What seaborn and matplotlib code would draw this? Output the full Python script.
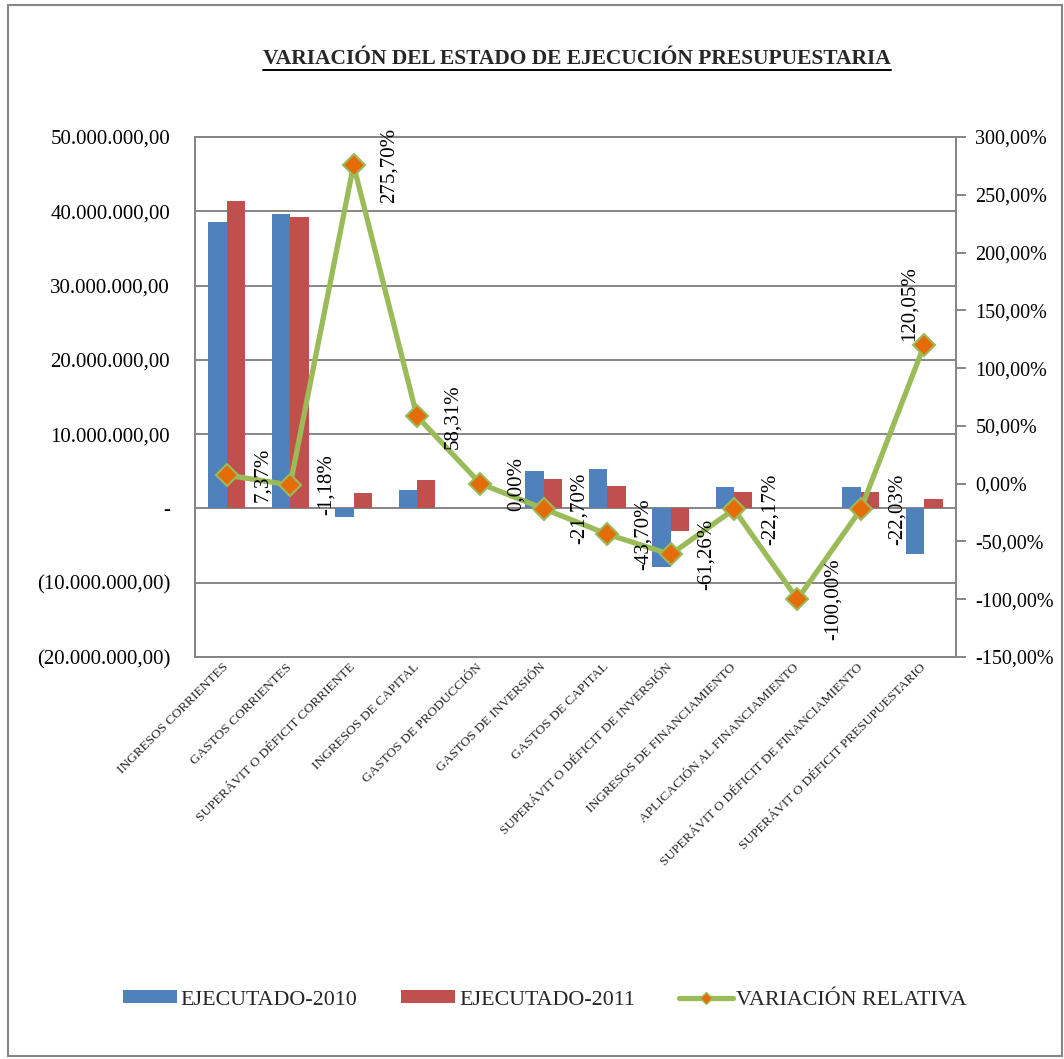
import numpy as np
import pandas as pd
import matplotlib
matplotlib.use("Agg")
import matplotlib.pyplot as plt
from matplotlib.patches import Patch, Rectangle
from matplotlib.lines import Line2D
from matplotlib.ticker import FuncFormatter, MultipleLocator
import seaborn as sns

# --- datos del estado de ejecución presupuestaria ---
rubros = [
    "INGRESOS CORRIENTES",
    "GASTOS CORRIENTES",
    "SUPERÁVIT O DÉFICIT CORRIENTE",
    "INGRESOS DE CAPITAL",
    "GASTOS DE PRODUCCIÓN",
    "GASTOS DE INVERSIÓN",
    "GASTOS DE CAPITAL",
    "SUPERÁVIT O DÉFICIT DE INVERSIÓN",
    "INGRESOS DE FINANCIAMIENTO",
    "APLICACIÓN AL FINANCIAMIENTO",
    "SUPERÁVIT O DÉFICIT DE FINANCIAMIENTO",
    "SUPERÁVIT O DÉFICIT PRESUPUESTARIO",
]
ejecutado_2010 = [38_500_000, 39_700_000, -1_200_000, 2_450_000, 0, 5_020_000,
                  5_250_000, -7_820_000, 2_830_000, 5_000, 2_820_000, -6_200_000]
ejecutado_2011 = [41_340_000, 39_230_000, 2_110_000, 3_880_000, 0, 3_930_000,
                  2_960_000, -3_020_000, 2_200_000, 0, 2_200_000, 1_290_000]
variacion_relativa = [7.37, -1.18, 275.70, 58.31, 0.00, -21.70, -43.70,
                      -61.26, -22.17, -100.00, -22.03, 120.05]
series = ["EJECUTADO-2010", "EJECUTADO-2011", "VARIACIÓN RELATIVA"]

AZUL = "#4F81BD"
ROJO = "#C0504D"
VERDE = "#9BBB59"
NARANJA = "#E46C0A"
GRIS = "#868686"

sns.set_theme(style="white")
plt.rcParams["font.family"] = ["Liberation Serif", "DejaVu Serif"]

df_barras = pd.DataFrame({
    "rubro": rubros * 2,
    "monto": ejecutado_2010 + ejecutado_2011,
    "serie": [series[0]] * len(rubros) + [series[1]] * len(rubros),
})
df_var = pd.DataFrame({"rubro": rubros, "variacion": variacion_relativa})

fig = plt.figure(figsize=(10.64, 10.59), dpi=100)
ax = fig.add_axes([195 / 1064, 1 - 657 / 1059, (956 - 195) / 1064, (657 - 137) / 1059])

sns.barplot(data=df_barras, x="rubro", y="monto", hue="serie", order=rubros,
            palette=[AZUL, ROJO], width=0.58, saturation=1, ax=ax, legend=False,
            linewidth=0, errorbar=None)

ax.set_ylim(-20_000_000, 50_000_000)
ax.set_xlim(-0.5, len(rubros) - 0.5)
ax.yaxis.set_major_locator(MultipleLocator(10_000_000))


def formato_monto(v, pos):
    if abs(v) < 1:
        return "-"
    s = f"{abs(v):,.2f}".replace(",", "X").replace(".", ",").replace("X", ".")
    return f"({s})" if v < 0 else s


ax.yaxis.set_major_formatter(FuncFormatter(formato_monto))
ax.grid(axis="y", color=GRIS, linewidth=1.4)
ax.grid(axis="x", visible=False)
ax.set_axisbelow(True)
ax.set_xlabel("")
ax.set_ylabel("")
for lado in ["left", "right", "top", "bottom"]:
    ax.spines[lado].set_color(GRIS)
    ax.spines[lado].set_linewidth(1.4)
ax.tick_params(axis="y", which="both", length=0, pad=18, labelsize=15, colors="black")
ax.tick_params(axis="x", length=0, pad=6)
ax.set_xticks(range(len(rubros)))
ax.set_xticklabels(rubros, rotation=45, ha="right", va="center",
                   rotation_mode="anchor", fontsize=9.6)

# eje secundario: variación relativa
ax2 = ax.twinx()
sns.pointplot(data=df_var, x="rubro", y="variacion", order=rubros, ax=ax2,
              color=VERDE, markers="D", linestyles="-", errorbar=None)
linea = ax2.lines[0]
linea.set_linewidth(3.8)
linea.set_markersize(11)
linea.set_markerfacecolor(NARANJA)
linea.set_markeredgecolor(VERDE)
linea.set_markeredgewidth(1.5)
ax2.set_ylim(-150, 300)
ax2.set_xlim(-0.5, len(rubros) - 0.5)
ax2.yaxis.set_major_locator(MultipleLocator(50))
ax2.yaxis.set_major_formatter(FuncFormatter(lambda v, p: f"{v:.2f}%".replace(".", ",")))
ax2.tick_params(axis="y", direction="out", length=7, width=1.4, color=GRIS,
                pad=7, labelsize=14.5, labelcolor="black")
ax2.set_ylabel("")
ax2.grid(False)
for lado in ["left", "right", "top", "bottom"]:
    ax2.spines[lado].set_color(GRIS)
    ax2.spines[lado].set_linewidth(1.4)

# etiquetas de valor junto a cada marcador
ultimo = len(variacion_relativa) - 1
for i, v in enumerate(variacion_relativa):
    texto = f"{v:.2f}%".replace(".", ",")
    if i == ultimo:
        ax2.annotate(texto, xy=(i, v), xytext=(-15, 4), textcoords="offset pixels",
                     rotation=90, ha="center", va="bottom", fontsize=15, color="black")
    else:
        ax2.annotate(texto, xy=(i, v), xytext=(36, 0), textcoords="offset pixels",
                     rotation=90, ha="center", va="center", fontsize=15, color="black")

# título subrayado
titulo = fig.text(577 / 1064, 1 - 59 / 1059, "VARIACIÓN DEL ESTADO DE EJECUCIÓN PRESUPUESTARIA",
                  ha="center", va="center", fontsize=15.5, fontweight="bold")
fig.canvas.draw()
bb = titulo.get_window_extent(renderer=fig.canvas.get_renderer())
fig.add_artist(Line2D([bb.x0 / 1064, bb.x1 / 1064], [1 - 70 / 1059, 1 - 70 / 1059],
                      transform=fig.transFigure, color="black", linewidth=1.4))

# leyenda
manejadores = [
    Patch(facecolor=AZUL, edgecolor="none"),
    Patch(facecolor=ROJO, edgecolor="none"),
    Line2D([], [], color=VERDE, linewidth=3.8, marker="D", markersize=6,
           markerfacecolor=NARANJA, markeredgecolor=VERDE),
]
fig.legend(manejadores, series, loc="center", bbox_to_anchor=(545 / 1064, 1 - 1000 / 1059),
           ncol=3, frameon=False, fontsize=15.8, handlelength=2.45, handleheight=0.5,
           columnspacing=2.0, handletextpad=0.18)

# marco exterior
fig.add_artist(Rectangle((8 / 1064, 3 / 1059), (1062 - 8) / 1064, (1054 - 3) / 1059,
                         transform=fig.transFigure, fill=False, edgecolor=GRIS, linewidth=1.5))

fig.savefig("out.png", dpi=100)
